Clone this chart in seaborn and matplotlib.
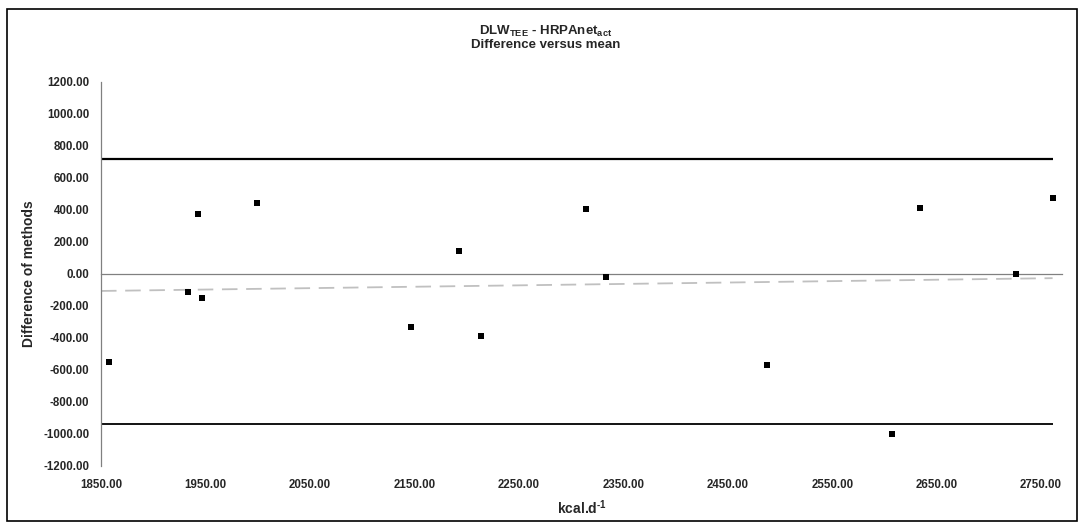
import matplotlib
matplotlib.use("Agg")
import matplotlib.pyplot as plt
from matplotlib.patches import Rectangle
import seaborn as sns
import pandas as pd

# ---- data ----
mean_x = [1858, 1933, 1943, 1947, 1999, 2147, 2193, 2214, 2314, 2333,
          2488, 2607, 2634, 2726, 2761]
diff_y = [-550, -112, 377, -148, 442, -329, 146, -385, 406, -19,
          -567, -1000, 414, -2, 477]
upper_loa = 720
lower_loa = -938
trend_x = [1850, 2761]
trend_y = [-106, -26]
x_ticks = [1850, 1950, 2050, 2150, 2250, 2350, 2450, 2550, 2650, 2750]
y_ticks = [-1200, -1000, -800, -600, -400, -200, 0, 200, 400, 600, 800, 1000, 1200]
x_range = (1850, 2770)
y_range = (-1200, 1200)
title_line1 = r"DLW$_{\mathbf{TEE}}$ - HRPAnet$_{\mathbf{act}}$"
title_line2 = "Difference versus mean"
x_label = r"kcal.d$^{\text{-1}}$"
y_label = "Difference of methods"

sns.set_style("white")
plt.rcParams["font.family"] = ["Liberation Sans", "DejaVu Sans"]
plt.rcParams["font.weight"] = "bold"
plt.rcParams["mathtext.fontset"] = "custom"
plt.rcParams["mathtext.rm"] = "Liberation Sans:bold"
plt.rcParams["mathtext.bf"] = "Liberation Sans:bold"
plt.rcParams["mathtext.it"] = "Liberation Sans:bold"

df = pd.DataFrame({"mean": mean_x, "diff": diff_y})

fig = plt.figure(figsize=(10.83, 5.24), dpi=100)
ax = fig.add_axes([101 / 1083, 1 - 466 / 524, (1062 - 101) / 1083, (466 - 82) / 524])

# limits of agreement
ax.hlines(upper_loa, x_range[0], max(mean_x), color="black", lw=1.6, zorder=2)
ax.hlines(lower_loa, x_range[0], max(mean_x), color="black", lw=1.3, zorder=2)

# trend line (dashed grey)
tr = pd.DataFrame({"x": trend_x, "y": trend_y})
sns.lineplot(data=tr, x="x", y="y", ax=ax, color="#c0c0c0", lw=1.3,
             dashes=False, zorder=2)
ax.lines[-1].set_dashes((8.6, 4.8))

# points
sns.scatterplot(data=df, x="mean", y="diff", ax=ax, marker="s", s=24,
                color="black", edgecolor="black", linewidth=0, zorder=3)

ax.set_xlim(*x_range)
ax.set_ylim(*y_range)

# spines
for s in ["top", "right"]:
    ax.spines[s].set_visible(False)
ax.spines["left"].set_color("#808080")
ax.spines["left"].set_linewidth(0.9)
ax.spines["bottom"].set_position(("data", 0))
ax.spines["bottom"].set_color("#808080")
ax.spines["bottom"].set_linewidth(0.9)

ax.set_yticks(y_ticks)
ax.set_yticklabels([f"{v:.2f}" for v in y_ticks], fontsize=8.3, fontweight="bold")
ax.tick_params(axis="y", direction="out", length=3.5, width=0.9, color="#808080", pad=5)

ax.set_xticks(x_ticks)
ax.tick_params(axis="x", direction="in", length=3.5, width=0.9, color="#808080",
               labelbottom=False)

sec = ax.secondary_xaxis("bottom")
sec.set_xticks(x_ticks)
sec.set_xticklabels([f"{v:.2f}" for v in x_ticks], fontsize=8.3, fontweight="bold")
sec.tick_params(axis="x", length=0, pad=9)
sec.spines["bottom"].set_visible(False)
sec.set_xlabel(x_label, fontsize=10, fontweight="bold", labelpad=6)

ax.set_xlabel("")
ax.set_ylabel(y_label, fontsize=10, fontweight="bold", labelpad=5)

fig.text(546 / 1083, 1 - 31 / 524, title_line1, ha="center", va="center",
         fontsize=9.5, fontweight="bold")
fig.text(546 / 1083, 1 - 45 / 524, title_line2, ha="center", va="center",
         fontsize=9.5, fontweight="bold")

fig.add_artist(Rectangle((7 / 1083, 3 / 524), (1077 - 7) / 1083, (521 - 9) / 524,
                         transform=fig.transFigure, fill=False,
                         edgecolor="black", lw=1.2))

fig.savefig("out.png", dpi=100)
